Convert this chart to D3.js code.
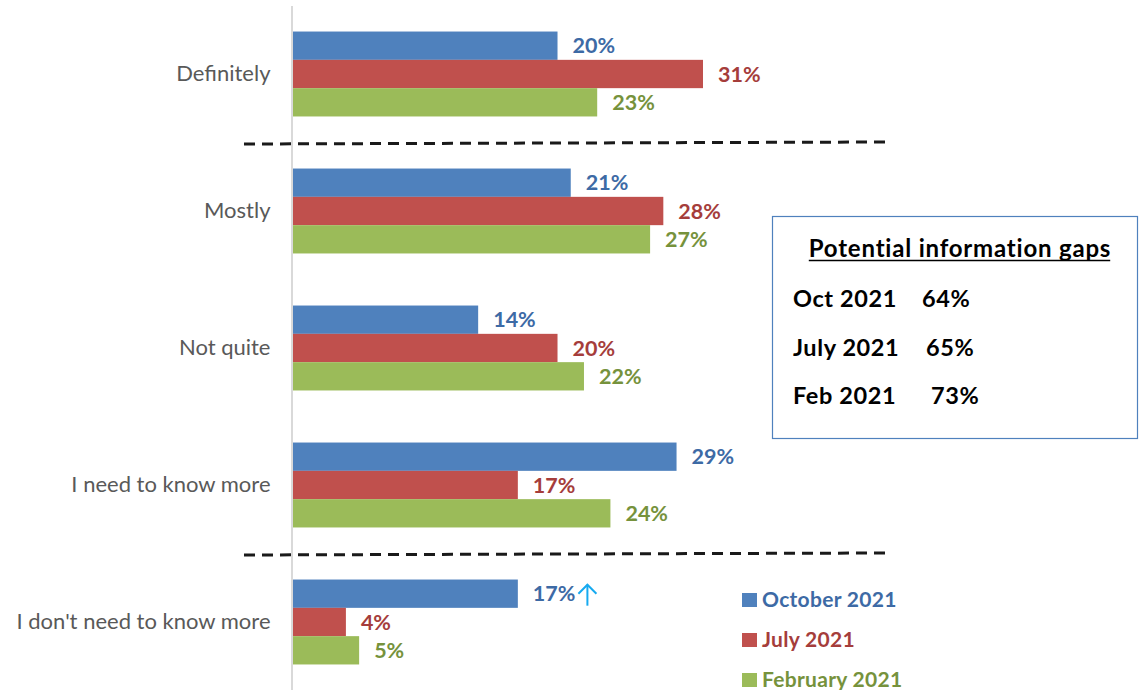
<!DOCTYPE html>
<html>
<head>
<meta charset="utf-8">
<script src="https://cdn.jsdelivr.net/npm/d3@7"></script>
<style>
  body { margin: 0; background: #fff; }
  svg { display: block; }
  text { font-family: Lato, "Open Sans", "Liberation Sans", sans-serif; }
</style>
</head>
<body>
<svg id="chart" width="1139" height="690"></svg>
<script>
// Survey answers, share of respondents (%) per wave
const categories = ["Definitely", "Mostly", "Not quite", "I need to know more", "I don't need to know more"];
const seriesNames = ["October 2021", "July 2021", "February 2021"];
const october2021 = [20, 21, 14, 29, 17];
const july2021 = [31, 28, 20, 17, 4];
const february2021 = [23, 27, 22, 24, 5];

// Summary box figures
const gapTitle = "Potential information gaps";
const gapLabels = ["Oct 2021", "July 2021", "Feb 2021"];
const gapValues = [64, 65, 73];

const seriesValues = [october2021, july2021, february2021];
const barColors = ["#4f81bd", "#c0504d", "#9bbb59"];
const labelColors = ["#3d6aa5", "#a53d3b", "#76923c"];

const svg = d3.select("#chart");

const x = d3.scaleLinear().domain([0, 31]).range([293, 703]);
const y = d3.scaleBand().domain(categories).range([5.5, 690.5]).paddingInner(0.38).paddingOuter(0.19);
const ySub = d3.scaleBand().domain(seriesNames).range([0, y.bandwidth()]);

// Category axis
const axis = svg.append("g")
  .attr("transform", `translate(${x(0) - 1.5},0)`)
  .call(d3.axisLeft(y).tickSize(0).tickPadding(21));
axis.select(".domain").attr("stroke", "#d9d9d9").attr("stroke-width", 2);
axis.selectAll(".tick text")
  .attr("fill", "#595959")
  .style("font-size", "22px")
  .style("font-family", "Lato, 'Open Sans', sans-serif");

// Bars and value labels
const rows = categories.map((c, i) => ({
  category: c,
  values: seriesNames.map((s, j) => ({ series: s, idx: j, value: seriesValues[j][i] }))
}));

const groups = svg.append("g").selectAll("g")
  .data(rows).join("g")
  .attr("transform", d => `translate(0,${y(d.category)})`);

groups.selectAll("rect")
  .data(d => d.values).join("rect")
  .attr("x", x(0))
  .attr("y", d => ySub(d.series))
  .attr("width", d => x(d.value) - x(0))
  .attr("height", ySub.bandwidth())
  .attr("fill", d => barColors[d.idx]);

groups.selectAll("text.val")
  .data(d => d.values).join("text")
  .attr("class", "val")
  .attr("x", d => x(d.value) + 15)
  .attr("y", d => ySub(d.series) + ySub.bandwidth() / 2)
  .attr("dy", "0.36em")
  .attr("fill", d => labelColors[d.idx])
  .style("font-size", "21.5px")
  .style("font-weight", "bold")
  .text(d => d.value + "%");

// Up arrow beside the October "I don't need to know more" value
const lastLabel = groups.filter(d => d.category === categories[4])
  .selectAll("text.val").filter(d => d.idx === 0);
const lbl = lastLabel.node();
const ax = +lbl.getAttribute("x") + lbl.getComputedTextLength() + 12;
const ay = y(categories[4]) + ySub(seriesNames[0]) + ySub.bandwidth() / 2;
const arrow = svg.append("g").attr("stroke", "#16aaf0").attr("stroke-width", 2).attr("fill", "none");
arrow.append("line").attr("x1", ax).attr("x2", ax).attr("y1", ay + 12).attr("y2", ay - 9);
arrow.append("polyline").attr("points", `${ax - 9},${ay} ${ax},${ay - 9} ${ax + 9},${ay}`);

// Dashed separators between answer groups
const sepAfter = [0, 3];
sepAfter.forEach(i => {
  const yy = y(categories[i]) + y.bandwidth() + (y.step() - y.bandwidth()) / 2 + 1.5;
  svg.append("line")
    .attr("x1", 244).attr("x2", 885)
    .attr("y1", yy).attr("y2", yy - 2)
    .attr("stroke", "#1a1a1a")
    .attr("stroke-width", 3)
    .attr("stroke-dasharray", "11,7");
});

// Summary box
const box = svg.append("g");
box.append("rect")
  .attr("x", 772.5).attr("y", 216.5)
  .attr("width", 365).attr("height", 222)
  .attr("fill", "#fff")
  .attr("stroke", "#4f81bd")
  .attr("stroke-width", 1.2);
const title = box.append("text")
  .attr("x", 960).attr("y", 257)
  .attr("text-anchor", "middle")
  .attr("fill", "#000")
  .style("font-size", "24px")
  .style("font-weight", "bold")
  .style("letter-spacing", "0.8px")
  .text(gapTitle);
const tb = title.node().getBBox();
box.append("line")
  .attr("x1", tb.x).attr("x2", tb.x + tb.width - 1)
  .attr("y1", 260.5).attr("y2", 260.5)
  .attr("stroke", "#000").attr("stroke-width", 1.6);

const gapRowY = [307, 356, 404];
const gapValueX = [922, 926, 931];
gapLabels.forEach((g, i) => {
  box.append("text")
    .attr("x", 793).attr("y", gapRowY[i])
    .style("font-size", "23.5px").style("font-weight", "bold")
    .style("letter-spacing", "0.6px")
    .attr("fill", "#000")
    .text(g);
  box.append("text")
    .attr("x", gapValueX[i]).attr("y", gapRowY[i])
    .style("font-size", "23.5px").style("font-weight", "bold")
    .style("letter-spacing", "0.6px")
    .attr("fill", "#000")
    .text(gapValues[i] + "%");
});

// Legend
const legend = svg.append("g").selectAll("g")
  .data(seriesNames).join("g")
  .attr("transform", (d, i) => `translate(742,${593 + i * 40})`);
legend.append("rect")
  .attr("width", 15).attr("height", 14)
  .attr("fill", (d, i) => barColors[i]);
legend.append("text")
  .attr("x", 20).attr("y", 14)
  .attr("fill", (d, i) => labelColors[i])
  .style("font-size", "21px").style("font-weight", "bold")
  .style("letter-spacing", "0.3px")
  .text(d => d);
</script>
</body>
</html>
